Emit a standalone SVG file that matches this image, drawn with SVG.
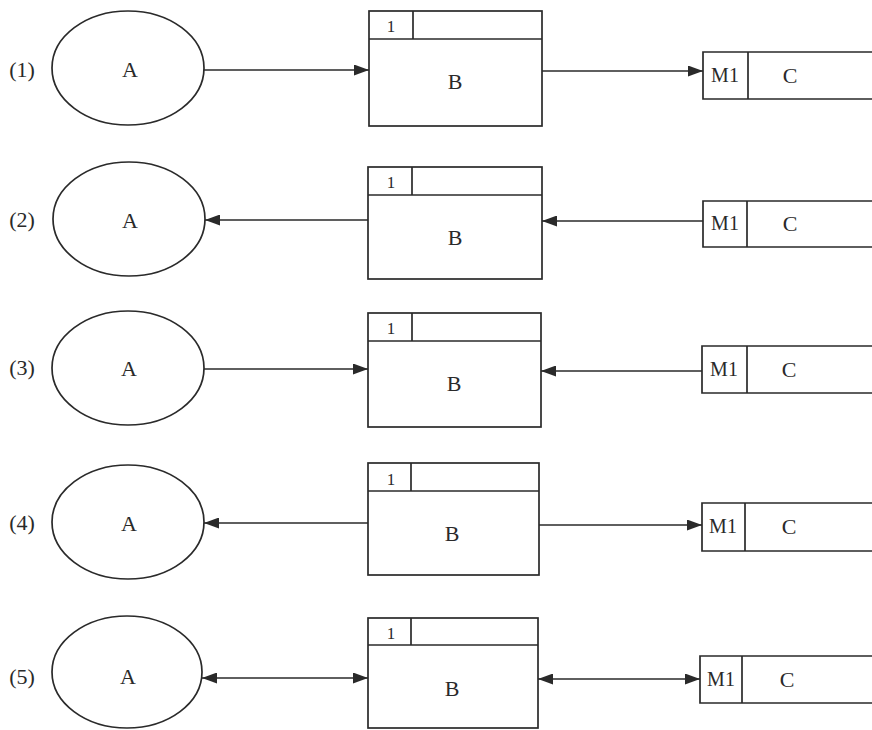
<svg xmlns="http://www.w3.org/2000/svg" width="872" height="730" viewBox="0 0 872 730">
<defs>
<marker id="ah" viewBox="0 0 15 11" refX="15" refY="5.5" markerWidth="15" markerHeight="11" markerUnits="userSpaceOnUse" orient="auto-start-reverse">
<path d="M0,0 L15,5.5 L0,11 Z" fill="#2a2a2a"/>
</marker>
</defs>
<style>
.sh{fill:none;stroke:#2a2a2a;stroke-width:1.7}
.ln{fill:none;stroke:#2a2a2a;stroke-width:1.7}
.t{font-family:"Liberation Serif","Times New Roman",serif;fill:#2a2a2a;text-anchor:middle}
.lg{font-size:22px}
.md{font-size:20px}
.sm{font-size:17px}
</style>
<rect width="872" height="730" fill="#ffffff"/>

<!-- Row 1 -->
<g id="row1-label"><text class="t lg" x="22" y="77">(1)</text></g>
<g id="row1-A"><ellipse class="sh" cx="128" cy="68" rx="76" ry="57"/><text class="t lg" x="130" y="77">A</text></g>
<g id="row1-B"><rect class="sh" x="369" y="11" width="173" height="115"/><line class="sh" x1="369" y1="39" x2="542" y2="39"/><line class="sh" x1="413" y1="11" x2="413" y2="39"/><text class="t sm" x="391" y="32">1</text><text class="t lg" x="455" y="89">B</text></g>
<g id="row1-C"><path class="sh" d="M880,52 L703,52 L703,99 L880,99"/><line class="sh" x1="748" y1="52" x2="748" y2="99"/><text class="t md" x="725" y="82">M1</text><text class="t lg" x="790" y="83">C</text></g>

<!-- Row 2 -->
<g id="row2-label"><text class="t lg" x="22" y="227">(2)</text></g>
<g id="row2-A"><ellipse class="sh" cx="129" cy="219" rx="76" ry="57"/><text class="t lg" x="130" y="228">A</text></g>
<g id="row2-B"><rect class="sh" x="368" y="167" width="174" height="112"/><line class="sh" x1="368" y1="195" x2="542" y2="195"/><line class="sh" x1="412" y1="167" x2="412" y2="195"/><text class="t sm" x="391" y="188">1</text><text class="t lg" x="455" y="245">B</text></g>
<g id="row2-C"><path class="sh" d="M880,201 L703,201 L703,247 L880,247"/><line class="sh" x1="747" y1="201" x2="747" y2="247"/><text class="t md" x="725" y="230">M1</text><text class="t lg" x="790" y="231">C</text></g>

<!-- Row 3 -->
<g id="row3-label"><text class="t lg" x="22" y="375">(3)</text></g>
<g id="row3-A"><ellipse class="sh" cx="128" cy="368" rx="76" ry="57"/><text class="t lg" x="129" y="376">A</text></g>
<g id="row3-B"><rect class="sh" x="368" y="313" width="173" height="114"/><line class="sh" x1="368" y1="341" x2="541" y2="341"/><line class="sh" x1="412" y1="313" x2="412" y2="341"/><text class="t sm" x="391" y="334">1</text><text class="t lg" x="454" y="391">B</text></g>
<g id="row3-C"><path class="sh" d="M880,346 L702,346 L702,393 L880,393"/><line class="sh" x1="747" y1="346" x2="747" y2="393"/><text class="t md" x="724" y="376">M1</text><text class="t lg" x="789" y="377">C</text></g>

<!-- Row 4 -->
<g id="row4-label"><text class="t lg" x="22" y="530">(4)</text></g>
<g id="row4-A"><ellipse class="sh" cx="128" cy="522" rx="76" ry="57"/><text class="t lg" x="129" y="531">A</text></g>
<g id="row4-B"><rect class="sh" x="368" y="463" width="171" height="112"/><line class="sh" x1="368" y1="491" x2="539" y2="491"/><line class="sh" x1="411" y1="463" x2="411" y2="491"/><text class="t sm" x="391" y="485">1</text><text class="t lg" x="452" y="541">B</text></g>
<g id="row4-C"><path class="sh" d="M880,503 L702,503 L702,551 L880,551"/><line class="sh" x1="745" y1="503" x2="745" y2="551"/><text class="t md" x="723" y="533">M1</text><text class="t lg" x="789" y="534">C</text></g>

<!-- Row 5 -->
<g id="row5-label"><text class="t lg" x="22" y="684">(5)</text></g>
<g id="row5-A"><ellipse class="sh" cx="127" cy="672" rx="75" ry="56"/><text class="t lg" x="128" y="684">A</text></g>
<g id="row5-B"><rect class="sh" x="368" y="618" width="170" height="110"/><line class="sh" x1="368" y1="645" x2="538" y2="645"/><line class="sh" x1="411" y1="618" x2="411" y2="645"/><text class="t sm" x="391" y="639">1</text><text class="t lg" x="452" y="696">B</text></g>
<g id="row5-C"><path class="sh" d="M880,656 L700,656 L700,703 L880,703"/><line class="sh" x1="742" y1="656" x2="742" y2="703"/><text class="t md" x="721" y="686">M1</text><text class="t lg" x="787" y="687">C</text></g>

<!-- Connectors -->
<g id="connectors">
<line class="ln" x1="204" y1="70" x2="369" y2="70" marker-end="url(#ah)"/>
<line class="ln" x1="542" y1="71" x2="703" y2="71" marker-end="url(#ah)"/>

<line class="ln" x1="368" y1="220" x2="205" y2="220" marker-end="url(#ah)"/>
<line class="ln" x1="703" y1="221" x2="542" y2="221" marker-end="url(#ah)"/>

<line class="ln" x1="204" y1="369" x2="368" y2="369" marker-end="url(#ah)"/>
<line class="ln" x1="702" y1="371" x2="541" y2="371" marker-end="url(#ah)"/>

<line class="ln" x1="368" y1="523" x2="204" y2="523" marker-end="url(#ah)"/>
<line class="ln" x1="539" y1="525" x2="702" y2="525" marker-end="url(#ah)"/>

<line class="ln" x1="202" y1="678" x2="368" y2="678" marker-start="url(#ah)" marker-end="url(#ah)"/>
<line class="ln" x1="538" y1="679" x2="700" y2="679" marker-start="url(#ah)" marker-end="url(#ah)"/>
</g>
</svg>
